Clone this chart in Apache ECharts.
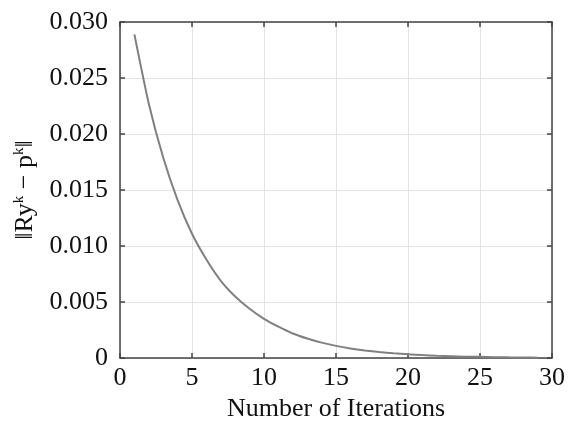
<!DOCTYPE html>
<html>
<head>
<meta charset="utf-8">
<script src="https://cdn.jsdelivr.net/npm/echarts@6/dist/echarts.min.js"></script>
<style>html,body{margin:0;padding:0;background:#fff}#c{width:568px;height:427px}</style>
</head>
<body>
<div id="c"></div>
<script>
var iterations = [1,2,3,4,5,6,7,8,9,10,11,12,13,14,15,16,17,18,19,20,21,22,23,24,25,26,27,28,29];
var residuals = [0.0289,0.0227,0.0179,0.0141,0.0111,0.0088,0.0069,0.0055,0.0044,0.0035,
  0.0028,0.0022,0.00175,0.00138,0.00109,0.00086,0.00068,0.00054,0.00043,0.00034,
  0.00027,0.00021,0.00017,0.00013,0.00011,0.000085,0.000067,0.000053,0.000042];
var xName = 'Number of Iterations';
var yName = '‖Ry{s|k} − p{s|k}‖';

var FONT = 'Liberation Serif';
var axisColor = '#444';
var chart = echarts.init(document.getElementById('c'));
var pts = iterations.map(function(x, i){ return [x, residuals[i]]; });
var lineStyle = {color: axisColor, width: 1.5};
chart.setOption({
  animation: false,
  grid: {left: 120, right: 13, top: 22, bottom: 61},
  xAxis: [{
    type: 'value', min: 0, max: 30, interval: 5, position: 'bottom',
    name: xName, nameLocation: 'middle', nameGap: 32,
    nameTextStyle: {fontFamily: FONT, fontSize: 26, color: '#111'},
    axisLine: {show: true, onZero: false, lineStyle: lineStyle},
    axisTick: {show: true, inside: true, length: 5, lineStyle: lineStyle},
    axisLabel: {fontFamily: FONT, fontSize: 26, color: '#111', margin: 7},
    splitLine: {show: true, lineStyle: {color: '#e3e3e3', width: 1}}
  }, {
    type: 'value', min: 0, max: 30, interval: 5, position: 'top',
    axisLine: {show: true, onZero: false, lineStyle: lineStyle},
    axisTick: {show: true, inside: true, length: 5, lineStyle: lineStyle},
    axisLabel: {show: false}, splitLine: {show: false}
  }],
  yAxis: [{
    type: 'value', min: 0, max: 0.03, interval: 0.005, position: 'left',
    name: yName, nameLocation: 'middle', nameGap: 82, nameRotate: 90,
    nameTextStyle: {fontFamily: FONT, fontSize: 26, color: '#111',
      rich: {s: {fontFamily: FONT, fontSize: 15, color: '#111', verticalAlign: 'top', padding: [0,0,10,0]}}},
    axisLine: {show: true, onZero: false, lineStyle: lineStyle},
    axisTick: {show: true, inside: true, length: 5, lineStyle: lineStyle},
    axisLabel: {fontFamily: FONT, fontSize: 26, color: '#111', margin: 12,
      formatter: function(v){ return v === 0 ? '0' : v.toFixed(3); }},
    splitLine: {show: true, lineStyle: {color: '#e3e3e3', width: 1}}
  }, {
    type: 'value', min: 0, max: 0.03, interval: 0.005, position: 'right',
    axisLine: {show: true, onZero: false, lineStyle: lineStyle},
    axisTick: {show: true, inside: true, length: 5, lineStyle: lineStyle},
    axisLabel: {show: false}, splitLine: {show: false}
  }],
  series: [{
    type: 'line', data: pts, xAxisIndex: 0, yAxisIndex: 0,
    smooth: 0.2, showSymbol: false, symbol: 'none',
    lineStyle: {color: '#808080', width: 2}
  }]
});
</script>
</body>
</html>
